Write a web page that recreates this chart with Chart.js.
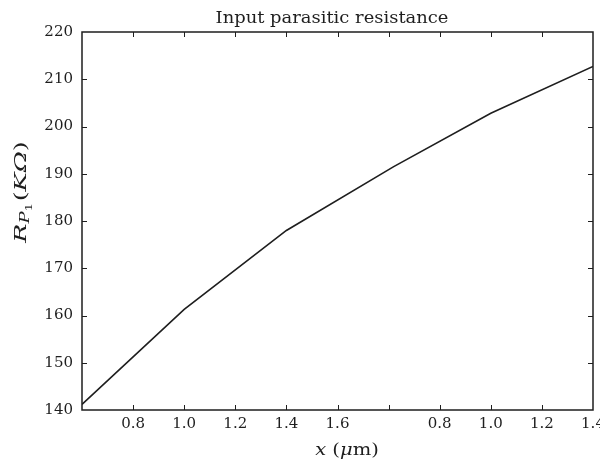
<!DOCTYPE html>
<html>
<head>
<meta charset="utf-8">
<script src="https://cdn.jsdelivr.net/npm/chart.js@4/dist/chart.umd.min.js"></script>
<style>
  html, body { margin: 0; padding: 0; background: #fff; }
  #wrap { width: 600px; height: 466px; position: relative; }
</style>
</head>
<body>
<div id="wrap"><canvas id="c" width="600" height="466"></canvas></div>
<script>
// ---- data ----
const xPositions = [0, 2, 4, 6.1, 8, 10];              // position along the x axis (tick index units)
const rValues    = [141.2, 161.3, 178.0, 191.5, 202.8, 212.7]; // R_P1 in KΩ
const xTickLabels = ['', '0.8', '1.0', '1.2', '1.4', '1.6', '', '0.8', '1.0', '1.2', '1.4'];
const yMin = 140, yMax = 220, yStep = 10;
const chartTitle = 'Input parasitic resistance';

const FONT = '"DejaVu Serif", "Liberation Serif", serif';
const INK = '#1e1e1e';

const framePlugin = {
  id: 'frameAndTitles',
  afterDraw(chart) {
    const ctx = chart.ctx;
    const a = chart.chartArea;
    const xs = chart.scales.x, ys = chart.scales.y;
    ctx.save();
    ctx.strokeStyle = INK;
    ctx.lineWidth = 1.5;
    ctx.strokeRect(a.left, a.top, a.right - a.left, a.bottom - a.top);
    ctx.lineWidth = 1;
    const tl = 5;
    xs.ticks.forEach(t => {
      const px = Math.round(xs.getPixelForValue(t.value)) + 0.5;
      if (px <= a.left + 1 || px >= a.right - 1) return;
      ctx.beginPath();
      ctx.moveTo(px, a.bottom); ctx.lineTo(px, a.bottom - tl);
      ctx.moveTo(px, a.top); ctx.lineTo(px, a.top + tl);
      ctx.stroke();
    });
    ys.ticks.forEach(t => {
      const py = Math.round(ys.getPixelForValue(t.value)) + 0.5;
      if (py <= a.top + 1 || py >= a.bottom - 1) return;
      ctx.beginPath();
      ctx.moveTo(a.left, py); ctx.lineTo(a.left + tl, py);
      ctx.moveTo(a.right, py); ctx.lineTo(a.right - tl, py);
      ctx.stroke();
    });

    ctx.fillStyle = INK;
    ctx.textBaseline = 'alphabetic';

    // helper: draw a run of styled pieces centred at (cx, base), stretched horizontally by sx
    function drawPieces(pieces, cx, base, sx) {
      ctx.save();
      ctx.translate(cx, base);
      ctx.scale(sx, 1);
      let total = 0;
      pieces.forEach(p => { ctx.font = p.f; p.w = ctx.measureText(p.t).width + (p.gap || 0); total += p.w; });
      let x = -total / 2;
      ctx.textAlign = 'left';
      pieces.forEach(p => { ctx.font = p.f; ctx.fillText(p.t, x, (p.dy || 0)); x += p.w; });
      ctx.restore();
    }

    // chart title
    drawPieces([{ t: chartTitle, f: '16px ' + FONT }], 332, 23, 1.12);

    // x-axis title: x (μm)
    drawPieces([
      { t: 'x', f: 'italic 17px ' + FONT },
      { t: ' (', f: '17px ' + FONT },
      { t: 'μ', f: 'italic 17px ' + FONT },
      { t: 'm)', f: '17px ' + FONT }
    ], 347, 455, 1.15);

    // y-axis title: R_{P_1}(KΩ), rotated
    ctx.save();
    ctx.translate(26, 192);
    ctx.rotate(-Math.PI / 2);
    drawPieces([
      { t: 'R', f: 'italic 17px ' + FONT },
      { t: 'P', f: 'italic 12px ' + FONT, dy: 3 },
      { t: '1', f: '9px ' + FONT, dy: 6, gap: 1 },
      { t: '(', f: '17px ' + FONT },
      { t: 'K', f: 'italic 17px ' + FONT },
      { t: 'Ω', f: 'italic 17px ' + FONT },
      { t: ')', f: '17px ' + FONT }
    ], 0, 0, 1.5);
    ctx.restore();
    ctx.restore();
  }
};

new Chart(document.getElementById('c'), {
  type: 'line',
  data: {
    datasets: [{
      data: xPositions.map((x, i) => ({ x: x, y: rValues[i] })),
      borderColor: INK,
      borderWidth: 1.6,
      pointRadius: 0,
      tension: 0,
      fill: false
    }]
  },
  options: {
    responsive: false,
    animation: false,
    devicePixelRatio: 1,
    layout: { padding: { top: 32, right: 7, left: 0, bottom: 0 } },
    plugins: { legend: { display: false }, title: { display: false }, tooltip: { enabled: false } },
    scales: {
      x: {
        type: 'linear', min: 0, max: 10,
        grid: { display: false, drawTicks: false },
        border: { display: false },
        ticks: {
          stepSize: 1, padding: 5, color: INK, maxRotation: 0, autoSkip: false,
          font: { family: FONT, size: 15 },
          callback: (v) => xTickLabels[Math.round(v)] ?? ''
        },
        afterFit(s) { s.height = 56; s.paddingLeft = 0; s.paddingRight = 0; }
      },
      y: {
        min: yMin, max: yMax,
        grid: { display: false, drawTicks: false },
        border: { display: false },
        ticks: {
          stepSize: yStep, padding: 9, color: INK,
          font: { family: FONT, size: 15 }
        },
        afterFit(s) { s.width = 82; s.paddingTop = 0; s.paddingBottom = 0; }
      }
    }
  },
  plugins: [framePlugin]
});
</script>
</body>
</html>
